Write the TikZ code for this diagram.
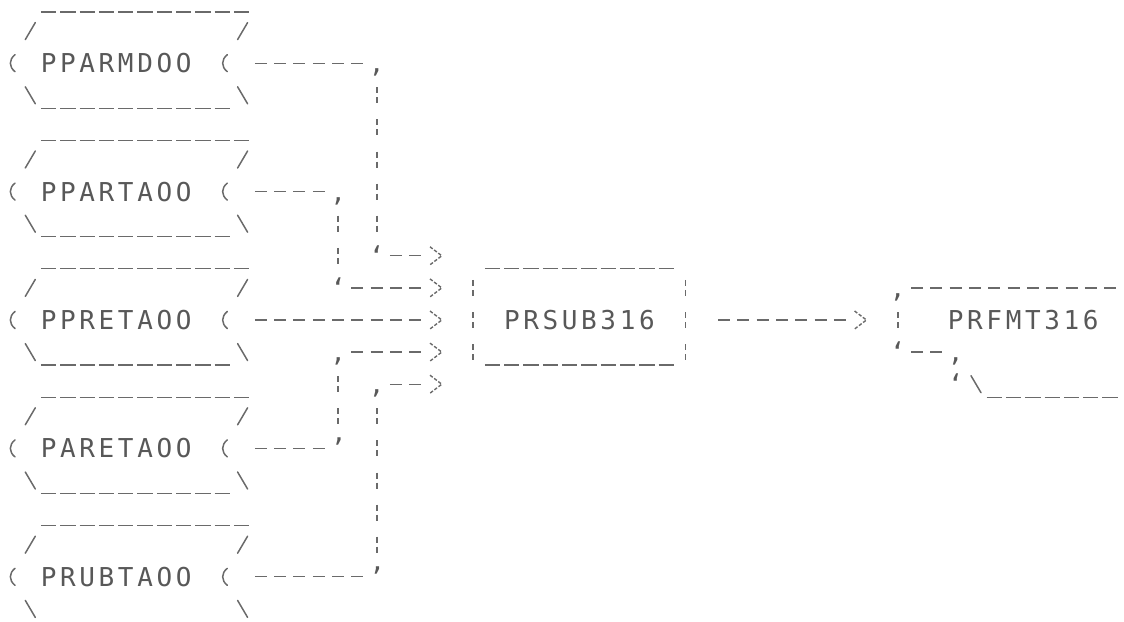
\documentclass[tikz,border=0pt]{standalone}
\usepackage{fontspec}
\newfontfamily\dotfont{DejaVu Sans Mono}[LetterSpace=14]
\definecolor{ink}{HTML}{6A6A6A}
\definecolor{textink}{HTML}{585858}
% cols #1..#2 hyphens on line #3
\newcommand\Dhy[3]{\draw[hyph] ({#1-0.311},#3) -- ({#2+0.311},#3);}
% cols #1..#2 underscores on line #3
\newcommand\Dus[3]{\draw[unds] ({#1-0.396},{#3+0.405}) -- ({#2+0.396},{#3+0.405});}
% vertical bar in col #1 from line #2 to line #3
\newcommand\Dvb[3]{\draw[vbar] (#1,{#2-0.249}) -- (#1,{#3+0.249});}
\newcommand\Dfs[2]{\draw[slsh] ([shift={(-2pt,-4.25pt)}]#1,#2) -- ([shift={(3pt,4.25pt)}]#1,#2);}
\newcommand\Dbs[2]{\draw[slsh] ([shift={(-2pt,4.25pt)}]#1,#2) -- ([shift={(3pt,-4.25pt)}]#1,#2);}
\newcommand\Dpa[2]{\draw[slsh] ([shift={(2.5pt,4.25pt)}]#1,#2) .. controls ([shift={(-0.6pt,1.8pt)}]#1,#2) and ([shift={(-0.6pt,-1.8pt)}]#1,#2) .. ([shift={(2.5pt,-4.25pt)}]#1,#2);}
\newcommand\Dgt[2]{\draw[chev] ([shift={(-2.3pt,4.5pt)}]#1,#2) -- ([shift={(3.6pt,0pt)}]#1,#2) -- ([shift={(-2.3pt,-4.5pt)}]#1,#2);}
\newcommand\Dgl[4]{\node[glyph] (#1) at ([yshift=-4.75pt]#2,#3) {#4};}
% left file box: lines #1..#4, node name #5, text #6
\newcommand\Dlbox[6]{%
  \Dus{2}{12}{#1}%
  \Dfs{1}{#2}\Dfs{12}{#2}%
  \Dpa{0}{#3}\Dpa{11}{#3}%
  \node[nametext] (#5) at ([yshift=-4.75pt]5.5,#3) {#6};%
  \Dbs{1}{#4}\Dbs{12}{#4}%
}
\begin{document}
\begin{tikzpicture}[x=9.65pt,y=-16.05pt,
  hyph/.style={draw=ink,line width=0.62pt,dash pattern=on 6pt off 3.65pt},
  unds/.style={draw=ink,line width=0.62pt,dash pattern=on 7.65pt off 2pt},
  vbar/.style={draw=ink,line width=0.85pt,dash pattern=on 3pt off 2pt on 3pt off 8.05pt},
  slsh/.style={draw=ink,line width=0.75pt,line cap=round},
  chev/.style={draw=ink,line width=0.7pt,dash pattern=on 1.7pt off 0.9pt},
  glyph/.style={anchor=base,inner sep=0pt,text=textink,font=\dotfont\fontsize{13}{13}\selectfont},
  nametext/.style={glyph}]
\useasboundingbox (-0.518,0.031) rectangle (57.72,19.377);

% left file boxes
\Dlbox{0}{1}{2}{3}{n1}{PPARMDOO}
\Dus{2}{11}{3}
\Dlbox{4}{5}{6}{7}{n2}{PPARTAOO}
\Dus{2}{11}{7}
\Dlbox{8}{9}{10}{11}{n3}{PPRETAOO}
\Dus{2}{11}{11}
\Dlbox{12}{13}{14}{15}{n4}{PARETAOO}
\Dus{2}{11}{15}
\Dlbox{16}{17}{18}{19}{n5}{PRUBTAOO}

% connectors into PRSUB316
\Dhy{13}{18}{2} \Dgl{c2a}{19}{2}{,} \Dvb{19}{3}{7} \Dgl{c2b}{19}{8}{‘} \Dhy{20}{21}{8} \Dgt{22}{8}
\Dhy{13}{16}{6} \Dgl{c6a}{17}{6}{,} \Dvb{17}{7}{8} \Dgl{c6b}{17}{9}{‘} \Dhy{18}{21}{9} \Dgt{22}{9}
\Dhy{13}{21}{10} \Dgt{22}{10}
\Dhy{13}{16}{14} \Dgl{c14a}{17}{14}{’} \Dvb{17}{12}{13} \Dgl{c14b}{17}{11}{,} \Dhy{18}{21}{11} \Dgt{22}{11}
\Dhy{13}{18}{18} \Dgl{c18a}{19}{18}{’} \Dvb{19}{13}{17} \Dgl{c18b}{19}{12}{,} \Dhy{20}{21}{12} \Dgt{22}{12}

% PRSUB316 box
\Dus{25}{34}{8}
\Dvb{24}{9}{11} \Dvb{35}{9}{11}
\node[nametext] (sub) at ([yshift=-4.75pt]29.5,10) {PRSUB316};
\Dus{25}{34}{11}

% arrow to PRFMT316
\Dhy{37}{43}{10} \Dgt{44}{10}

% PRFMT316 box
\Dgl{f1}{46}{9}{,} \Dhy{47}{57}{9}
\Dvb{46}{10}{10}
\node[nametext] (fmt) at ([yshift=-4.75pt]52.5,10) {PRFMT316};
\Dgl{f2}{46}{11}{‘} \Dhy{47}{48}{11} \Dgl{f3}{49}{11}{,}
\Dgl{f4}{49}{12}{‘} \Dbs{50}{12} \Dus{51}{57}{12}
\end{tikzpicture}
\end{document}
